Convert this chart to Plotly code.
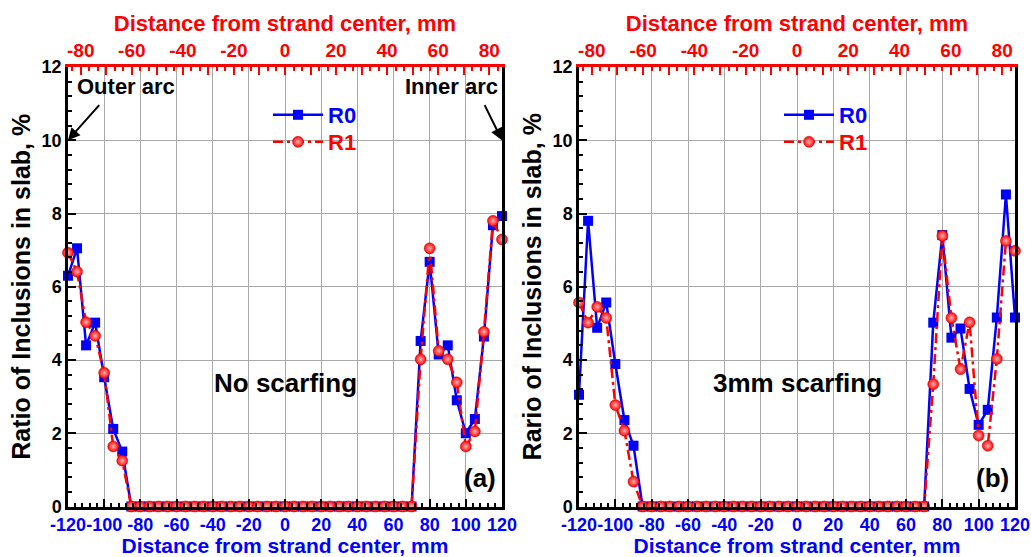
import plotly.graph_objects as go

# Positions across the slab width (bottom axis), mm
x_mm = [-120, -115, -110, -105, -100, -95, -90, -85, -80, -75, -70, -65, -60,
        -55, -50, -45, -40, -35, -30, -25, -20, -15, -10, -5, 0, 5, 10, 15, 20,
        25, 30, 35, 40, 45, 50, 55, 60, 65, 70, 75, 80, 85, 90, 95, 100, 105,
        110, 115, 120]

# (a) No scarfing
r0_a = [6.30, 7.05, 4.40, 5.02, 3.53, 2.12, 1.50,
        0, 0, 0, 0, 0, 0, 0, 0, 0, 0, 0, 0, 0, 0, 0, 0,
        0, 0, 0, 0, 0, 0, 0, 0, 0, 0, 0, 0, 0, 0, 0, 0,
        4.52, 6.68, 4.15, 4.40, 2.90, 2.00, 2.39, 4.64, 7.68, 7.93]
r1_a = [6.93, 6.41, 5.03, 4.66, 3.65, 1.64, 1.25,
        0, 0, 0, 0, 0, 0, 0, 0, 0, 0, 0, 0, 0, 0, 0, 0,
        0, 0, 0, 0, 0, 0, 0, 0, 0, 0, 0, 0, 0, 0, 0, 0,
        4.02, 7.05, 4.25, 4.02, 3.39, 1.64, 2.05, 4.77, 7.80, 7.29]

# (b) 3mm scarfing
r0_b = [3.05, 7.80, 4.88, 5.57, 3.89, 2.36, 1.66,
        0, 0, 0, 0, 0, 0, 0, 0, 0, 0, 0, 0, 0, 0, 0, 0,
        0, 0, 0, 0, 0, 0, 0, 0, 0, 0, 0, 0, 0, 0, 0, 0,
        5.02, 7.41, 4.61, 4.86, 3.21, 2.23, 2.64, 5.16, 8.52, 5.16]
r1_b = [5.57, 5.02, 5.45, 5.15, 2.77, 2.07, 0.68,
        0, 0, 0, 0, 0, 0, 0, 0, 0, 0, 0, 0, 0, 0, 0, 0,
        0, 0, 0, 0, 0, 0, 0, 0, 0, 0, 0, 0, 0, 0, 0, 0,
        3.34, 7.39, 5.15, 3.75, 5.03, 1.94, 1.66, 4.03, 7.25, 6.98]

# Tick labels
bottom_ticks = [-120, -100, -80, -60, -40, -20, 0, 20, 40, 60, 80, 100, 120]
bottom_text = ["-120", "-100", "-80", "-60", "-40", "-20", "0", "20", "40", "60", "80", "100", "120"]
top_ticks = [-80, -70, -60, -50, -40, -30, -20, -10, 0, 10, 20, 30, 40, 50, 60, 70, 80]
top_text = ["-80", "", "-60", "", "-40", "", "-20", "", "0", "", "20", "", "40", "", "60", "", "80"]
y_ticks = [0, 2, 4, 6, 8, 10, 12]

BLUE = "#0000ff"
RED = "#ff0000"
FONT = "Liberation Sans, Arial, sans-serif"
W, H = 1031, 557

panels = [
    dict(x0=68, x1=502, r0=r0_a, r1=r1_a, xa="x", ya="y", xt="x3",
         legs=("legend", "legend2"),
         ytitle="Ratio of Inclusions in slab, %", label="No scarfing", tag="(a)"),
    dict(x0=579, x1=1015, r0=r0_b, r1=r1_b, xa="x2", ya="y2", xt="x4",
         legs=("legend3", "legend4"),
         ytitle="Rario of Inclusions in slab, %", label="3mm scarfing", tag="(b)"),
]
y_top, y_bot = 67, 506.5
ydom = [(H - y_bot) / H, (H - y_top) / H]

fig = go.Figure()
for p in panels:
    fig.add_trace(go.Scatter(
        x=x_mm, y=p["r0"], xaxis=p["xa"], yaxis=p["ya"], legend=p["legs"][0],
        name="<span style='color:%s'>R0</span>" % BLUE, mode="lines+markers",
        line=dict(color=BLUE, width=2.5),
        marker=dict(symbol="square", size=10, color=BLUE, line=dict(width=0)),
        cliponaxis=False))
    fig.add_trace(go.Scatter(
        x=x_mm, y=p["r1"], xaxis=p["xa"], yaxis=p["ya"], legend=p["legs"][1],
        name="<span style='color:%s'>R1</span>" % RED, mode="lines+markers",
        line=dict(color=RED, width=2.5, dash="10px,4px,3px,4px"),
        marker=dict(symbol="circle", size=11, color=RED, line=dict(width=0.5, color="#d00000"),
                    gradient=dict(type="radial", color="#ffb4b4")),
        cliponaxis=False))
    # keeps the top scale drawn
    fig.add_trace(go.Scatter(x=[-85, 85], y=[None, None], xaxis=p["xt"], yaxis=p["ya"],
                             showlegend=False, hoverinfo="skip", mode="lines"))

axis_common = dict(showline=True, linewidth=2.5, zeroline=False, ticks="inside",
                   tickwidth=2, tickangle=0, automargin=False)

layout = dict(
    width=W, height=H, margin=dict(l=0, r=0, t=0, b=0),
    paper_bgcolor="white", plot_bgcolor="white",
    font=dict(family=FONT, size=19, color="black", weight="bold"),
    showlegend=True,
)

annotations = []
for i, p in enumerate(panels):
    xd = [p["x0"] / W, p["x1"] / W]
    n = "" if i == 0 else "2"
    xb = "xaxis" + ("" if i == 0 else "2")
    xt = "xaxis" + ("3" if i == 0 else "4")
    ya = "yaxis" + n
    layout[xb] = dict(axis_common, domain=xd, anchor=p["ya"], range=[-120, 120],
                      linecolor="black", tickcolor="black", ticklen=8,
                      tickvals=bottom_ticks, ticktext=bottom_text,
                      tickfont=dict(color=BLUE, size=18), ticklabelstandoff=0,
                      showgrid=True, gridcolor="#a8a8a8", gridwidth=1,
                      minor=dict(dtick=4, tick0=0, ticks="inside", ticklen=4,
                                 tickcolor="black", tickwidth=1.5, showgrid=False),
                      title=dict(text="Distance from strand center, mm",
                                 font=dict(color=BLUE, size=21), standoff=4))
    layout[xt] = dict(axis_common, overlaying=p["xa"], side="top", anchor=p["ya"],
                      range=[-85, 85], linecolor=RED, tickcolor=RED, ticklen=8,
                      tickvals=top_ticks, ticktext=top_text,
                      tickfont=dict(color=RED, size=19), showgrid=False,
                      minor=dict(dtick=10 / 3, tick0=0, ticks="inside", ticklen=4,
                                 tickcolor=RED, tickwidth=2, showgrid=False),
                      title=dict(text="Distance from strand center, mm",
                                 font=dict(color=RED, size=22), standoff=2))
    layout[ya] = dict(axis_common, domain=ydom, anchor=p["xa"], range=[0, 12],
                      linecolor="black", tickcolor="black", ticklen=8, mirror=True,
                      tickvals=y_ticks, tickfont=dict(size=18),
                      showgrid=True, gridcolor="#a8a8a8", gridwidth=1,
                      minor=dict(dtick=0.4, tick0=0, ticks="inside", ticklen=4,
                                 tickcolor="black", tickwidth=1.5, showgrid=False),
                      title=dict(text=p["ytitle"], font=dict(size=25), standoff=4))
    for leg, yc in zip(p["legs"], (115, 142)):
        layout[leg] = dict(x=(p["x0"] + 200) / W, y=1 - yc / H, xanchor="left",
                           yanchor="middle", bgcolor="rgba(0,0,0,0)",
                           font=dict(size=22, family=FONT), itemwidth=50)
    cx = (p["x0"] + p["x1"]) / 2 / W
    annotations.append(dict(text=p["label"], x=cx, y=(H - 383) / H, xref="paper", yref="paper",
                            xanchor="center", yanchor="middle",
                            showarrow=False, font=dict(size=26, color="black")))
    annotations.append(dict(text=p["tag"], x=(p["x1"] - 4) / W, y=(H - 478) / H,
                            xref="paper", yref="paper", xanchor="right", yanchor="middle",
                            showarrow=False, font=dict(size=26, color="black")))

# arc side markers on panel (a)
annotations.append(dict(text="Outer arc", x=(75) / W, y=(H - 87) / H, xref="paper", yref="paper",
                        xanchor="left", yanchor="middle", showarrow=False,
                        font=dict(size=22, color="black")))
annotations.append(dict(text="Inner arc", x=(500) / W, y=(H - 87) / H, xref="paper", yref="paper",
                        xanchor="right", yanchor="middle", showarrow=False,
                        font=dict(size=22, color="black")))
annotations.append(dict(text="", x=-120, y=10, xref="x", yref="y", ax=-102, ay=11.0,
                        axref="x", ayref="y", showarrow=True, arrowhead=2, arrowsize=1.2,
                        arrowwidth=2, arrowcolor="black"))
annotations.append(dict(text="", x=120, y=10, xref="x", yref="y", ax=110, ay=11.0,
                        axref="x", ayref="y", showarrow=True, arrowhead=2, arrowsize=1.2,
                        arrowwidth=2, arrowcolor="black"))
layout["annotations"] = annotations

fig.update_layout(**layout)
fig.write_html("out.html")
